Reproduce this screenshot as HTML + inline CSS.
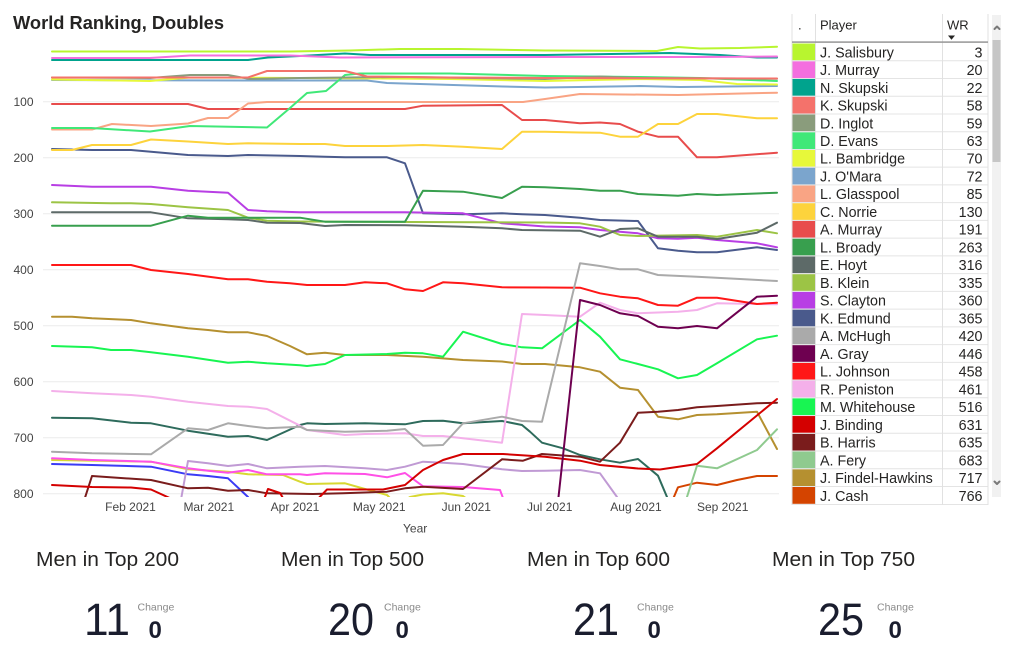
<!DOCTYPE html>
<html>
<head>
<meta charset="utf-8">
<style>
  html,body{margin:0;padding:0;background:#ffffff;}
  body{width:1024px;height:657px;overflow:hidden;}
  svg{display:block;}
  .ax{font-family:"Liberation Sans",sans-serif;font-size:12px;fill:#444444;}
  .row{font-family:"Liberation Sans",sans-serif;font-size:14.3px;fill:#252423;}
  .hdr{font-family:"Liberation Sans",sans-serif;font-size:13px;fill:#252423;}
  .kt{font-family:"Liberation Sans",sans-serif;font-size:20.5px;fill:#252423;}
  .kn{font-family:"Liberation Sans",sans-serif;font-size:45px;fill:#1a1d2e;}
  .kc{font-family:"Liberation Sans",sans-serif;font-size:10.5px;fill:#8a8a8a;}
  .kz{font-family:"Liberation Sans",sans-serif;font-size:24px;font-weight:bold;fill:#1a1d2e;}
  polyline{fill:none;stroke-width:2;stroke-linejoin:round;stroke-linecap:round;}
</style>
</head>
<body>
<svg width="1024" height="657" viewBox="0 0 1024 657" xmlns="http://www.w3.org/2000/svg">
  <defs>
    <clipPath id="plot"><rect x="40" y="40" width="745" height="457"/></clipPath>
  </defs>

  <!-- Title -->
  <text x="13" y="29" font-family="'Liberation Sans',sans-serif" font-size="18.5" font-weight="bold" fill="#252423" textLength="211" lengthAdjust="spacingAndGlyphs">World Ranking, Doubles</text>

  <!-- Gridlines -->
  <g stroke="#ebebeb" stroke-width="1">
    <line x1="43" y1="101.7" x2="779" y2="101.7"/>
    <line x1="43" y1="157.7" x2="779" y2="157.7"/>
    <line x1="43" y1="213.7" x2="779" y2="213.7"/>
    <line x1="43" y1="269.7" x2="779" y2="269.7"/>
    <line x1="43" y1="325.7" x2="779" y2="325.7"/>
    <line x1="43" y1="381.7" x2="779" y2="381.7"/>
    <line x1="43" y1="437.7" x2="779" y2="437.7"/>
    <line x1="43" y1="493.7" x2="779" y2="493.7"/>
  </g>

  <!-- Y labels -->
  <g class="ax" text-anchor="end">
    <text x="33.5" y="106">100</text>
    <text x="33.5" y="162">200</text>
    <text x="33.5" y="218">300</text>
    <text x="33.5" y="274">400</text>
    <text x="33.5" y="330">500</text>
    <text x="33.5" y="386">600</text>
    <text x="33.5" y="442">700</text>
    <text x="33.5" y="498">800</text>
  </g>

  <!-- X labels -->
  <g class="ax" text-anchor="middle">
    <text x="130.5" y="511">Feb 2021</text>
    <text x="208.8" y="511">Mar 2021</text>
    <text x="295" y="511">Apr 2021</text>
    <text x="379.2" y="511">May 2021</text>
    <text x="466.3" y="511">Jun 2021</text>
    <text x="549.7" y="511">Jul 2021</text>
    <text x="636" y="511">Aug 2021</text>
    <text x="722.7" y="511">Sep 2021</text>
  </g>
  <text class="ax" x="403" y="532.5">Year</text>

  <!-- Series -->
  <g clip-path="url(#plot)">
    <!-- unlisted (scrolled) players -->
    <polyline stroke="#3b3bf5" points="52,464 92,465 151,466.7 188,474.3 208,476 228,478.3 248,497 267,530"/>
    <polyline stroke="#d8d832" points="52,460 111,461 151,461.7 188,469.3 228,471.7 248,474.3 283,475 300,481.7 307,484 345,483.3 365,489 387,495 397,505 410,497 423,494.5 443,493.3 463,496 475,505"/>
    <polyline stroke="#ff50e6" points="52,458.3 92,460 151,461.7 188,468.3 208,470.7 228,472.7 248,470 267,474.3 300,474.3 307,475 325,473.3 365,474 387,477.3 405,473 423,486.3 463,487 500,490 515,530"/>
    <polyline stroke="#c09ad4" points="180,505 188,461 208,463.3 228,466 248,464 267,468.3 300,466.7 325,466 365,468.3 387,470 405,466.7 423,461.7 443,462.7 463,464 502,469.3 522,471 545,470.7 580,470 600,473.3 617,497 625,510"/>
    <polyline stroke="#2e6b5c" points="52,417.7 92,418.3 131,422.7 151,423.3 188,430.7 228,436.7 248,436 267,440 300,425 307,423.3 325,424 365,423.3 405,424.3 423,421 443,420.7 463,423.3 502,421 522,425 530,431.7 542,442.7 563,448.3 580,455 600,459.3 620,462.7 638,459 658,475.7 667,497 672,510"/>

    <!-- listed players, bottom ranks first -->
    <polyline stroke="#d44400" points="660,530 678,487.3 697,482.7 717,485 737,480 757,476 777,476"/>
    <polyline stroke="#b59030" points="52,316.7 72,316.7 92,318.3 131,320 151,323.3 188,328.3 208,330 228,332.3 248,332.3 267,336 290,346 307,354.3 325,352.7 345,355 387,355 423,356.7 463,360 502,361.5 522,364 545,364 580,367.3 600,371.7 620,387.7 638,390 658,416.7 678,419.3 697,415 717,414.3 757,411.7 777,449"/>
    <polyline stroke="#8fca8f" points="678,525 697,465.7 717,468.3 757,450 777,429.3"/>
    <polyline stroke="#7a1c1c" points="72,538 92,476 151,480 188,488.3 208,487.7 228,490.7 248,490 267,493.3 313,494 343,493.3 387,491.7 405,488.3 423,486.7 463,489 502,459.3 523,460.7 542,454 580,456.7 600,461.7 620,442.7 638,412.7 658,411.7 678,410 697,407.3 717,406 757,403.3 777,402.7"/>
    <polyline stroke="#d40000" points="52,485 92,487 131,487.5 151,489.5 185,505 230,530 258,515 268,489 280,493 290,510 307,510 327,489.5 383,489.5 405,485 423,470 443,460 463,454 503,454 545,456.7 580,460.7 600,465 638,468.5 660,469.5 697,464 717,448.3 777,399"/>
    <polyline stroke="#18f552" points="52,346 92,347.3 111,350 131,350 151,352.3 188,356.7 228,362.7 248,361.7 267,363.3 300,365.3 307,366 325,364 345,355 387,354 405,352.7 423,353.3 443,356.7 463,331.7 502,344 522,347.3 542,348.3 580,320 600,336.7 620,359.3 638,364 658,369.3 678,378.3 697,375 717,363.3 757,339.3 777,335.7"/>
    <polyline stroke="#f4b0ea" points="52,391 92,393.3 131,395 151,396.7 188,401.7 228,406 248,406.7 267,409 300,425.7 307,430 345,435 365,434 405,433.3 423,436 443,436 463,438.3 502,442.7 522,314 545,315 580,316.7 600,302.7 620,310 638,313.3 678,311.7 697,310 717,303.3 757,304 777,304.3"/>
    <polyline stroke="#ff1717" points="52,265 131,265 151,270 188,274 228,279.3 248,279.3 267,281.7 290,283.3 307,285 345,285 365,282.3 387,283.3 405,289.3 423,291 443,282.3 463,283.3 502,287.3 545,287.5 580,287.7 600,293.3 620,296.7 638,298.3 658,305 678,305.7 697,297.7 717,297.7 757,304 777,302.7"/>
    <polyline stroke="#6e0050" points="556,520 580,300 600,305 620,313.3 638,316 658,326.7 678,328.3 697,326 717,328.3 757,296.7 777,295.7"/>
    <polyline stroke="#aaaaaa" points="52,451.7 92,453.3 151,454.3 188,428.3 208,430 228,423.3 248,426 267,428.3 300,426.7 307,430 345,431.7 387,430.7 405,429 423,445.7 443,445 463,423.3 502,416.7 522,421 542,421.7 580,263.3 600,266 620,269.3 638,269.3 658,275 697,276.7 740,279 777,281"/>
    <polyline stroke="#4a5a8c" points="52,149 92,150 131,150 151,151.7 188,155 228,156 248,155 300,156 325,156.7 345,157.3 387,157.3 405,163.3 423,213.3 463,214.3 502,213.3 522,214.3 545,215 580,217.7 600,220 638,221 658,248.3 678,250.7 697,252.3 717,252.3 757,247.3 777,250"/>
    <polyline stroke="#b83ee4" points="52,185 92,186.7 151,186.7 188,190.7 228,192.7 248,210 267,211.3 300,212.3 405,212.3 463,213.3 502,223.3 545,226.5 580,227.3 600,230 620,231.7 638,233.3 658,238.3 678,238.7 697,237.7 717,240 757,243.3 777,247.3"/>
    <polyline stroke="#9cc445" points="52,202.3 111,203.3 131,203.3 151,204 188,207.3 228,210 248,217.7 267,220.7 300,221.5 545,222.5 580,223.3 600,226.7 620,235 638,236 697,235 717,236.7 757,230 777,233.3"/>
    <polyline stroke="#5d6a68" points="52,212.3 151,212.3 188,218.3 228,219.3 248,220 267,222.7 300,223 325,226 345,225 405,225.3 463,226.7 502,228.3 522,230 580,230.7 600,236.7 620,229 638,228.3 658,236.7 697,236.7 717,239 757,232.7 777,222.7"/>
    <polyline stroke="#389f4e" points="52,225.7 151,225.7 188,215.7 208,217.7 300,217.7 325,221.7 405,221.7 423,190.7 463,191.7 502,198 522,186.7 545,187.2 580,189 600,190.7 620,190.7 638,194 678,195.7 697,194 717,195 777,192.7"/>
    <polyline stroke="#e84c4c" points="52,104 188,104 208,109 405,109 423,105.7 502,105 522,120 545,120 580,123.3 600,122.5 620,124 638,131.7 658,136.7 678,136.7 697,157.3 717,157.3 777,152.7"/>
    <polyline stroke="#fdd33c" points="52,150 72,150 92,145 131,145 151,139.5 188,141.5 228,144 248,143.3 300,144 325,144 345,146 387,146 423,145 463,146.7 502,149 522,131.7 545,131.7 580,132.5 600,132.7 620,136.7 638,136.7 658,124 678,124 697,114 717,114 757,118.3 777,118.3"/>
    <polyline stroke="#f9a484" points="52,129.5 92,129.5 112,124 151,126 188,123.5 208,118 228,118 248,103.5 267,102 523,102 545,99 580,94 678,95 777,92.7"/>
    <polyline stroke="#7ba5cd" points="52,80 250,80.5 367,80.5 387,83 503,86.5 545,87.5 640,86 680,87 777,86"/>
    <polyline stroke="#e7f83a" points="52,79.5 150,81 190,77.5 300,78 450,79 545,81 640,79 700,80 737,84 777,84.5"/>
    <polyline stroke="#40e878" points="52,128 91,128 150,131.5 190,126 267,127.5 290,108 307,93 326,91 345,75 360,73.5 450,73.5 545,76 640,77 700,78 777,81"/>
    <polyline stroke="#8a9c7c" points="52,77.5 150,78 190,75 228,75 250,79 300,78 400,77 545,79 600,76.5 640,78 777,78.7"/>
    <polyline stroke="#f4726b" points="52,77.5 248,77.5 267,71 345,71 367,76.5 450,77.5 545,78 777,78.5"/>
    <polyline stroke="#00a38d" points="52,60 248,60 268,57.5 300,56 345,53.5 370,55 545,55 640,53.5 670,53 720,55 757,57.5 777,57.5"/>
    <polyline stroke="#f46fdf" points="52,58 150,58 190,55.5 290,55.5 340,57.5 545,57 700,57 777,56.5"/>
    <polyline stroke="#b8f52f" points="52,51.5 290,51.5 350,50.5 400,49 460,49 545,50.5 657,51 678,47 700,48.5 740,48 777,46.7"/>
  </g>

  <!-- Table -->
  <g>
    <!-- row swatches -->
    <rect x="792.5" y="43.5" width="22.5" height="16.8" fill="#b8f52f"/>
    <rect x="792.5" y="61.24" width="22.5" height="16.8" fill="#f46fdf"/>
    <rect x="792.5" y="78.98" width="22.5" height="16.8" fill="#00a38d"/>
    <rect x="792.5" y="96.72" width="22.5" height="16.8" fill="#f4726b"/>
    <rect x="792.5" y="114.46" width="22.5" height="16.8" fill="#8a9c7c"/>
    <rect x="792.5" y="132.2" width="22.5" height="16.8" fill="#40e878"/>
    <rect x="792.5" y="149.94" width="22.5" height="16.8" fill="#e7f83a"/>
    <rect x="792.5" y="167.68" width="22.5" height="16.8" fill="#7ba5cd"/>
    <rect x="792.5" y="185.42" width="22.5" height="16.8" fill="#f9a484"/>
    <rect x="792.5" y="203.16" width="22.5" height="16.8" fill="#fdd33c"/>
    <rect x="792.5" y="220.9" width="22.5" height="16.8" fill="#e84c4c"/>
    <rect x="792.5" y="238.64" width="22.5" height="16.8" fill="#389f4e"/>
    <rect x="792.5" y="256.38" width="22.5" height="16.8" fill="#5d6a68"/>
    <rect x="792.5" y="274.12" width="22.5" height="16.8" fill="#9cc445"/>
    <rect x="792.5" y="291.86" width="22.5" height="16.8" fill="#b83ee4"/>
    <rect x="792.5" y="309.6" width="22.5" height="16.8" fill="#4a5a8c"/>
    <rect x="792.5" y="327.34" width="22.5" height="16.8" fill="#aaaaaa"/>
    <rect x="792.5" y="345.08" width="22.5" height="16.8" fill="#6e0050"/>
    <rect x="792.5" y="362.82" width="22.5" height="16.8" fill="#ff1717"/>
    <rect x="792.5" y="380.56" width="22.5" height="16.8" fill="#f4b0ea"/>
    <rect x="792.5" y="398.3" width="22.5" height="16.8" fill="#18f552"/>
    <rect x="792.5" y="416.04" width="22.5" height="16.8" fill="#d40000"/>
    <rect x="792.5" y="433.78" width="22.5" height="16.8" fill="#7a1c1c"/>
    <rect x="792.5" y="451.52" width="22.5" height="16.8" fill="#8fca8f"/>
    <rect x="792.5" y="469.26" width="22.5" height="16.8" fill="#b59030"/>
    <rect x="792.5" y="487" width="22.5" height="16.8" fill="#d44400"/>

    <!-- row separators -->
    <g stroke="#e4e4e4" stroke-width="1">
      <line x1="792" y1="60.74" x2="988" y2="60.74"/>
      <line x1="792" y1="78.48" x2="988" y2="78.48"/>
      <line x1="792" y1="96.22" x2="988" y2="96.22"/>
      <line x1="792" y1="113.96" x2="988" y2="113.96"/>
      <line x1="792" y1="131.7" x2="988" y2="131.7"/>
      <line x1="792" y1="149.44" x2="988" y2="149.44"/>
      <line x1="792" y1="167.18" x2="988" y2="167.18"/>
      <line x1="792" y1="184.92" x2="988" y2="184.92"/>
      <line x1="792" y1="202.66" x2="988" y2="202.66"/>
      <line x1="792" y1="220.4" x2="988" y2="220.4"/>
      <line x1="792" y1="238.14" x2="988" y2="238.14"/>
      <line x1="792" y1="255.88" x2="988" y2="255.88"/>
      <line x1="792" y1="273.62" x2="988" y2="273.62"/>
      <line x1="792" y1="291.36" x2="988" y2="291.36"/>
      <line x1="792" y1="309.1" x2="988" y2="309.1"/>
      <line x1="792" y1="326.84" x2="988" y2="326.84"/>
      <line x1="792" y1="344.58" x2="988" y2="344.58"/>
      <line x1="792" y1="362.32" x2="988" y2="362.32"/>
      <line x1="792" y1="380.06" x2="988" y2="380.06"/>
      <line x1="792" y1="397.8" x2="988" y2="397.8"/>
      <line x1="792" y1="415.54" x2="988" y2="415.54"/>
      <line x1="792" y1="433.28" x2="988" y2="433.28"/>
      <line x1="792" y1="451.02" x2="988" y2="451.02"/>
      <line x1="792" y1="468.76" x2="988" y2="468.76"/>
      <line x1="792" y1="486.5" x2="988" y2="486.5"/>
      <line x1="792" y1="504.5" x2="988" y2="504.5"/>
    </g>

    <!-- vertical lines -->
    <g stroke="#e1e1e1" stroke-width="1">
      <line x1="792" y1="14" x2="792" y2="505"/>
      <line x1="815.5" y1="14" x2="815.5" y2="505"/>
      <line x1="942.5" y1="14" x2="942.5" y2="505"/>
      <line x1="988" y1="14" x2="988" y2="505"/>
    </g>

    <!-- header -->
    <rect x="792" y="41.3" width="196" height="1.6" fill="#9c9c9c"/>
    <text class="hdr" x="798" y="29.3">.</text>
    <text class="hdr" x="820" y="29.3">Player</text>
    <text class="hdr" x="947" y="29.3">WR</text>
    <polygon points="948,35.5 955,35.5 951.5,39.8" fill="#252423"/>

    <!-- row text -->
    <g class="row">
      <text x="820" y="57.3">J. Salisbury</text><text x="982.5" y="57.3" text-anchor="end">3</text>
      <text x="820" y="75.04">J. Murray</text><text x="982.5" y="75.04" text-anchor="end">20</text>
      <text x="820" y="92.78">N. Skupski</text><text x="982.5" y="92.78" text-anchor="end">22</text>
      <text x="820" y="110.52">K. Skupski</text><text x="982.5" y="110.52" text-anchor="end">58</text>
      <text x="820" y="128.26">D. Inglot</text><text x="982.5" y="128.26" text-anchor="end">59</text>
      <text x="820" y="146">D. Evans</text><text x="982.5" y="146" text-anchor="end">63</text>
      <text x="820" y="163.74">L. Bambridge</text><text x="982.5" y="163.74" text-anchor="end">70</text>
      <text x="820" y="181.48">J. O'Mara</text><text x="982.5" y="181.48" text-anchor="end">72</text>
      <text x="820" y="199.22">L. Glasspool</text><text x="982.5" y="199.22" text-anchor="end">85</text>
      <text x="820" y="216.96">C. Norrie</text><text x="982.5" y="216.96" text-anchor="end">130</text>
      <text x="820" y="234.7">A. Murray</text><text x="982.5" y="234.7" text-anchor="end">191</text>
      <text x="820" y="252.44">L. Broady</text><text x="982.5" y="252.44" text-anchor="end">263</text>
      <text x="820" y="270.18">E. Hoyt</text><text x="982.5" y="270.18" text-anchor="end">316</text>
      <text x="820" y="287.92">B. Klein</text><text x="982.5" y="287.92" text-anchor="end">335</text>
      <text x="820" y="305.66">S. Clayton</text><text x="982.5" y="305.66" text-anchor="end">360</text>
      <text x="820" y="323.4">K. Edmund</text><text x="982.5" y="323.4" text-anchor="end">365</text>
      <text x="820" y="341.14">A. McHugh</text><text x="982.5" y="341.14" text-anchor="end">420</text>
      <text x="820" y="358.88">A. Gray</text><text x="982.5" y="358.88" text-anchor="end">446</text>
      <text x="820" y="376.62">L. Johnson</text><text x="982.5" y="376.62" text-anchor="end">458</text>
      <text x="820" y="394.36">R. Peniston</text><text x="982.5" y="394.36" text-anchor="end">461</text>
      <text x="820" y="412.1">M. Whitehouse</text><text x="982.5" y="412.1" text-anchor="end">516</text>
      <text x="820" y="429.84">J. Binding</text><text x="982.5" y="429.84" text-anchor="end">631</text>
      <text x="820" y="447.58">B. Harris</text><text x="982.5" y="447.58" text-anchor="end">635</text>
      <text x="820" y="465.32">A. Fery</text><text x="982.5" y="465.32" text-anchor="end">683</text>
      <text x="820" y="483.06">J. Findel-Hawkins</text><text x="982.5" y="483.06" text-anchor="end">717</text>
      <text x="820" y="500.8">J. Cash</text><text x="982.5" y="500.8" text-anchor="end">766</text>
    </g>

    <!-- scrollbar -->
    <rect x="992" y="15" width="9" height="482" fill="#f1f1f1"/>
    <rect x="992.5" y="40" width="8" height="122" fill="#c6c6c6"/>
    <polyline points="994.5,29 997,26.5 999.5,29" stroke="#7a7a7a" stroke-width="1" fill="none"/>
    <polyline points="994.5,481.5 997,484 999.5,481.5" stroke="#7a7a7a" stroke-width="1" fill="none"/>
  </g>

  <!-- KPI cards -->
  <text class="kt" x="36" y="566" textLength="143" lengthAdjust="spacingAndGlyphs">Men in Top 200</text>
  <text class="kt" x="281" y="566" textLength="143" lengthAdjust="spacingAndGlyphs">Men in Top 500</text>
  <text class="kt" x="527" y="566" textLength="143" lengthAdjust="spacingAndGlyphs">Men in Top 600</text>
  <text class="kt" x="772" y="566" textLength="143" lengthAdjust="spacingAndGlyphs">Men in Top 750</text>

  <text class="kn" x="84" y="635" textLength="46" lengthAdjust="spacingAndGlyphs">11</text>
  <text class="kn" x="328" y="635" textLength="46" lengthAdjust="spacingAndGlyphs">20</text>
  <text class="kn" x="573" y="635" textLength="46" lengthAdjust="spacingAndGlyphs">21</text>
  <text class="kn" x="818" y="635" textLength="46" lengthAdjust="spacingAndGlyphs">25</text>

  <text class="kc" x="137.5" y="610.5">Change</text>
  <text class="kc" x="384" y="610.5">Change</text>
  <text class="kc" x="637" y="610.5">Change</text>
  <text class="kc" x="877" y="610.5">Change</text>

  <text class="kz" x="148.5" y="638">0</text>
  <text class="kz" x="395.5" y="638">0</text>
  <text class="kz" x="647.5" y="638">0</text>
  <text class="kz" x="888.5" y="638">0</text>
</svg>
</body>
</html>
